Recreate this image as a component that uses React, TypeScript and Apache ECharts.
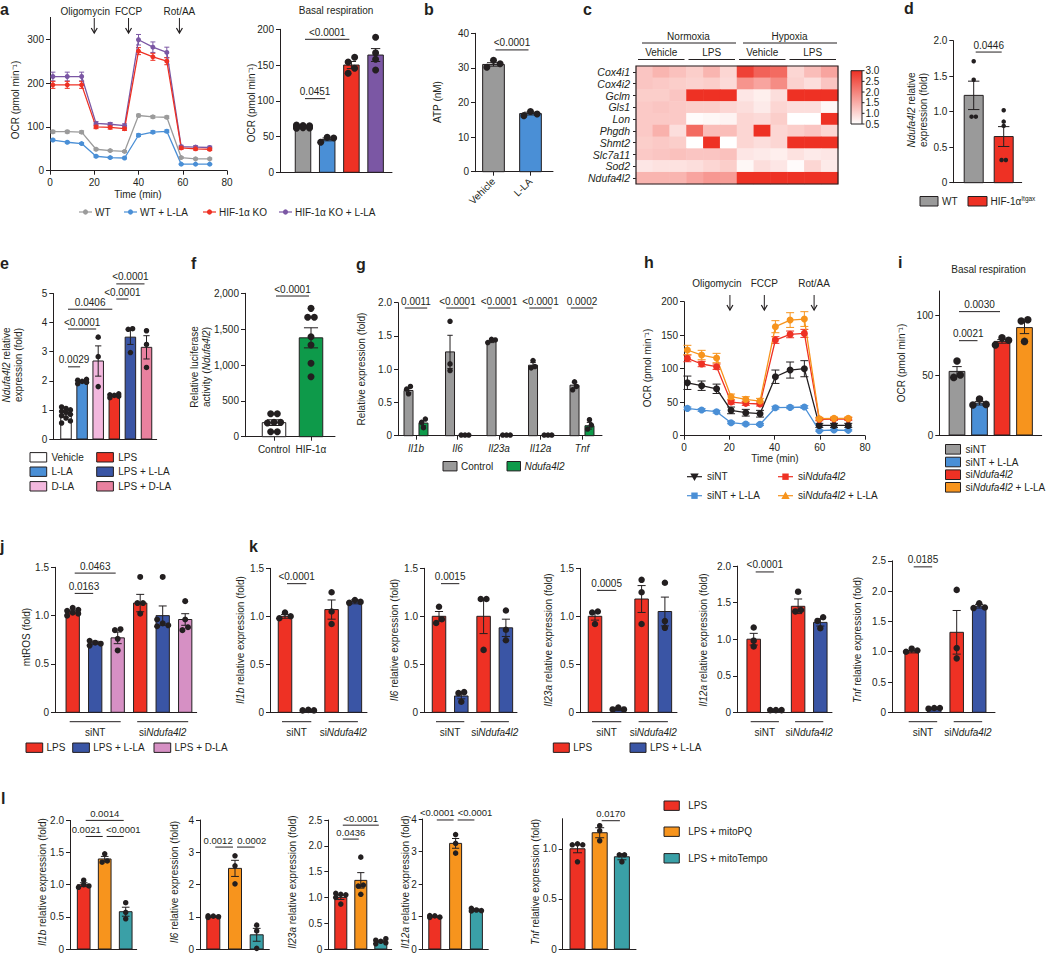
import React, { useEffect, useRef } from 'react';
import * as echarts from 'echarts';

const FONT = '"Liberation Sans", Arial, Helvetica, sans-serif';
const INK = '#231f20';
const FS = 10;

const GRAY = '#9a9a9a';
const BLUE = '#4a8fd6';
const RED = '#ee3124';
const PURPLE = '#7b57a4';
const GREEN = '#0e9a4a';
const NAVY = '#3a55a5';
const PINK_LIGHT = '#f3b8de';
const PINK = '#e9819f';
const MAUVE = '#d690c4';
const ORANGE = '#f7941d';
const TEAL = '#3aa0a7';
const WHITE = '#ffffff';

// ---------------- DATA ----------------
// a: OCR trace
const aTime = [1.3, 7.8, 14.3, 20.8, 27.2, 33.7, 40.0, 46.5, 52.8, 59.3, 65.8, 72.2];
const aWT = [89, 89, 88, 49, 46, 44, 126, 123, 122, 30, 27, 27];
const aWTErr = [3, 3, 3, 2, 2, 2, 3, 3, 3, 2, 2, 2];
const aWTLLA = [70, 65, 62, 33, 30, 29, 81, 88, 90, 15, 15, 15];
const aWTLLAErr = [2, 2, 2, 2, 2, 2, 3, 3, 3, 1, 1, 1];
const aKO = [196, 196, 196, 100, 99, 96, 273, 260, 250, 52, 50, 49];
const aKOErr = [8, 8, 8, 4, 4, 4, 8, 8, 8, 3, 3, 3];
const aKOLLA = [215, 215, 215, 108, 106, 103, 299, 282, 270, 55, 54, 53];
const aKOLLAErr = [10, 10, 10, 4, 4, 4, 12, 12, 12, 3, 3, 3];
const aGroups = ['WT', 'WT + L-LA', 'HIF-1α KO', 'HIF-1α KO + L-LA'];
const aInjections = ['Oligomycin', 'FCCP', 'Rot/AA'];
const aInjectionTimes = [20, 35.5, 58.5];
// a: basal respiration
const aBasalMean = [63.5, 46, 150, 164];
const aBasalErr = [1, 2, 5, 9];
const aBasalDots = [[66, 65.5, 65, 64.5, 64, 63.5, 63, 62.5, 62, 61.5], [42, 49, 48], [160.8, 154.3, 145.5, 138.5], [189, 167, 158, 143]];
const aBasalSig = [{ a: 0, b: 1, y: 103, t: '0.0451' }, { a: 0, b: 2, y: 186, t: '<0.0001' }];

// b: ATP
const bCats = ['Vehicle', 'L-LA'];
const bMean = [31, 16.8];
const bErr = [0.5, 0.4];
const bDots = [[32.2, 30.2, 31.2], [16.2, 17.4, 16.7]];
const bSig = [{ a: 0, b: 1, y: 35.2, t: '<0.0001' }];

// c: heatmap
const cGenes = ['Cox4i1', 'Cox4i2', 'Gclm', 'Gls1', 'Lon', 'Phgdh', 'Shmt2', 'Slc7a11', 'Sod2', 'Ndufa4l2'];
const cConditions = ['Normoxia', 'Hypoxia'];
const cTreatments = ['Vehicle', 'LPS'];
const cValues = [
  [1.2, 1.4, 1.25, 1.1, 1.4, 1.0, 2.8, 2.4, 2.3, 1.0, 1.3, 1.6],
  [1.2, 1.15, 1.1, 1.05, 1.1, 0.95, 1.8, 1.6, 1.9, 1.05, 0.9, 1.2],
  [1.1, 1.1, 1.2, 3.0, 3.0, 3.0, 0.8, 0.7, 0.9, 3.0, 3.0, 3.0],
  [1.15, 1.2, 1.15, 1.1, 1.1, 1.0, 0.9, 0.75, 1.0, 0.9, 0.9, 0.6],
  [1.15, 1.15, 1.15, 0.55, 0.6, 0.65, 1.0, 0.95, 1.1, 0.5, 0.5, 3.0],
  [1.15, 1.45, 0.9, 2.3, 1.3, 1.3, 1.0, 3.0, 1.0, 1.1, 1.2, 1.0],
  [1.1, 1.15, 1.1, 0.5, 3.0, 0.5, 1.0, 0.9, 1.0, 3.0, 3.0, 3.0],
  [1.15, 1.2, 1.25, 1.2, 1.2, 1.25, 0.8, 0.75, 0.7, 0.85, 0.75, 0.8],
  [0.8, 0.85, 0.85, 0.9, 1.0, 1.1, 0.6, 0.9, 0.8, 0.55, 1.0, 0.75],
  [1.4, 1.4, 1.4, 1.6, 1.75, 1.7, 3.0, 3.0, 3.0, 3.0, 3.0, 3.0],
];
const cScale = [0.5, 1.0, 1.5, 2.0, 2.5, 3.0];

// d
const dMean = [1.23, 0.65];
const dErr = [0.2, 0.14];
const dDots = [[1.71, 1.45, 0.93, 0.93], [1.02, 0.86, 0.8, 0.32, 0.32]];
const dSig = [{ a: 0, b: 1, y: 1.84, t: '0.0446' }];

// e
const eGroups = ['Vehicle', 'L-LA', 'D-LA', 'LPS', 'LPS + L-LA', 'LPS + D-LA'];
const eMean = [0.83, 1.98, 2.68, 1.49, 3.5, 3.15];
const eErr = [0.08, 0.03, 0.52, 0.03, 0.25, 0.4];
const eDots = [
  [1.1, 1.05, 1.0, 0.95, 0.92, 0.85, 0.8, 0.72, 0.62, 0.55],
  [2.05, 2.02, 1.98, 1.95, 1.9],
  [3.5, 2.83, 1.8],
  [1.55, 1.52, 1.5, 1.47, 1.42],
  [3.79, 3.77, 2.97],
  [3.72, 3.25, 2.46],
];
const eSig = [
  { a: 0, b: 1, y: 2.48, t: '0.0029' },
  { a: 0, b: 2, y: 3.78, t: '<0.0001' },
  { a: 0, b: 3, y: 4.46, t: '0.0406' },
  { a: 3, b: 4, y: 4.81, t: '<0.0001' },
  { a: 3, b: 5, y: 5.33, t: '<0.0001' },
];

// f
const fCats = ['Control', 'HIF-1α'];
const fMean = [196, 1379];
const fErr = [40, 140];
const fDots = [[320, 320, 200, 190, 200, 70, 70], [1790, 1665, 1665, 1395, 1279, 1024, 837]];
const fSig = [{ a: 0, b: 1, y: 1962, t: '<0.0001' }];

// g
const gGenes = ['Il1b', 'Il6', 'Il23a', 'Il12a', 'Tnf'];
const gControl = [0.68, 1.26, 1.42, 1.06, 0.76];
const gControlErr = [0.03, 0.25, 0.02, 0.04, 0.04];
const gNd = [0.19, 0.01, 0.01, 0.01, 0.15];
const gNdErr = [0.04, 0, 0, 0, 0.05];
const gControlDots = [[0.74, 0.7, 0.63], [1.72, 1.08, 0.98], [1.45, 1.44, 1.4], [1.13, 1.04, 1.02], [0.81, 0.74, 0.69]];
const gNdDots = [[0.25, 0.2, 0.12], [0.01, 0.01, 0.01], [0.01, 0.01, 0.01], [0.01, 0.01, 0.01], [0.24, 0.16, 0.1]];
const gSigY = 1.92;
const gSigLabels = ['0.0011', '<0.0001', '<0.0001', '<0.0001', '0.0002'];

// h
const hTime = [1.5, 7.8, 14.4, 20.8, 27.3, 33.6, 40.4, 46.9, 53.2, 59.8, 66.3, 72.6];
const hSiNT = [79, 74.6, 70, 37.8, 34.3, 32.8, 88, 98, 100, 15.4, 15.4, 15.4];
const hSiNTErr = [10, 7, 7, 5, 5, 5, 10, 12, 12, 3, 3, 3];
const hSiNTLLA = [40.8, 38.3, 35.8, 19.4, 17.4, 16.9, 41.8, 42.3, 42.8, 7.5, 8.5, 8];
const hSiNTLLAErr = [2, 2, 2, 1.5, 1.5, 1.5, 2, 2, 2, 1, 1, 1];
const hSiNd = [115.4, 107, 103, 50.2, 48.3, 47.3, 142.8, 151.2, 152.7, 24.4, 24.9, 24.9];
const hSiNdErr = [5, 4, 4, 3, 3, 3, 5, 5, 6, 2, 2, 2];
const hSiNdLLA = [127.9, 120.4, 115.9, 58.2, 54.2, 51.7, 162.7, 172.6, 174.1, 25.4, 25.9, 25.9];
const hSiNdLLAErr = [7, 7, 7, 4, 4, 4, 9, 11, 11, 2, 2, 2];
const hInjectionTimes = [20.3, 35.5, 57.5];

// i
const iMean = [53, 26.5, 78, 89.5];
const iErr = [4, 1.5, 1.5, 5];
const iDots = [[61.7, 50, 48], [30, 25.5, 25], [81, 79, 75], [96, 95, 78]];
const iSig = [{ a: 0, b: 1, y: 78.6, t: '0.0021' }, { a: 0, b: 2, y: 102.8, t: '0.0030' }];

// j
const jMean = [1.04, 0.72, 0.77, 1.13, 1.0, 0.96];
const jErr = [0.015, 0.015, 0.06, 0.09, 0.1, 0.06];
const jDots = [
  [1.08, 1.06, 1.05, 1.03, 1.02, 1.0],
  [0.74, 0.72, 0.71, 0.69],
  [0.86, 0.85, 0.76, 0.64],
  [1.4, 1.13, 1.13, 1.02],
  [1.4, 0.96, 0.92, 0.9, 0.89],
  [1.15, 0.96, 0.88, 0.85],
];
const jSig = [{ a: 0, b: 1, y: 1.23, t: '0.0163' }, { a: 0, b: 2, y: 1.44, t: '0.0463' }];

// k
const kGenes = ['Il1b', 'Il6', 'Il23a', 'Il12a', 'Tnf'];
const kMeans = [[1.0, 0.02, 1.07, 1.15], [1.0, 0.17, 1.0, 0.88], [1.0, 0.03, 1.18, 1.05], [1.0, 0.03, 1.45, 1.23], [1.0, 0.06, 1.32, 1.75]];
const kErrs = [[0.02, 0.003, 0.1, 0.02], [0.05, 0.03, 0.18, 0.09], [0.04, 0.01, 0.14, 0.15], [0.08, 0.005, 0.1, 0.05], [0.02, 0.01, 0.36, 0.03]];
const kDots = [
  [[1.04, 1.0, 0.98], [0.02, 0.025, 0.02], [1.25, 1.05, 0.92], [1.17, 1.15, 1.14]],
  [[1.1, 0.97, 0.93], [0.21, 0.2, 0.11], [1.18, 1.18, 0.65], [1.06, 0.86, 0.75]],
  [[1.05, 1.04, 0.92], [0.05, 0.03, 0.03], [1.38, 1.25, 0.92], [1.35, 0.95, 0.88]],
  [[1.16, 0.98, 0.9], [0.03, 0.03, 0.03], [1.65, 1.4, 1.38], [1.3, 1.25, 1.15]],
  [[1.05, 1.02, 1.0], [0.07, 0.07, 0.06], [2.02, 1.06, 0.89], [1.8, 1.73, 1.72]],
];
const kSigs = [
  [{ a: 0, b: 1, y: 1.34, t: '<0.0001' }],
  [{ a: 0, b: 1, y: 1.34, t: '0.0015' }],
  [{ a: 0, b: 1, y: 1.27, t: '0.0005' }],
  [{ a: 0, b: 1, y: 1.92, t: '<0.0001' }],
  [{ a: 0, b: 1, y: 2.4, t: '0.0185' }],
];
const kMax = [1.5, 1.5, 1.5, 2.0, 2.5];

// l
const lGenes = ['Il1b', 'Il6', 'Il23a', 'Il12a', 'Tnf'];
const lGroups = ['LPS', 'LPS + mitoPQ', 'LPS + mitoTempo'];
const lMeans = [[1.0, 1.4, 0.58], [1.0, 2.5, 0.44], [1.0, 1.33, 0.15], [1.0, 3.25, 1.2], [1.0, 1.16, 0.92]];
const lErrs = [[0.03, 0.04, 0.07], [0.02, 0.25, 0.2], [0.04, 0.15, 0.02], [0.02, 0.15, 0.03], [0.04, 0.05, 0.03]];
const lDots = [
  [[1.07, 1.0, 0.98, 0.96], [1.48, 1.37, 1.35], [0.72, 0.57, 0.47]],
  [[1.03, 1.02, 1.0, 0.98], [2.89, 2.58, 2.02], [0.74, 0.56, 0.02]],
  [[1.08, 1.06, 1.05, 1.0, 0.87], [1.78, 1.24, 1.22, 1.06], [0.2, 0.17, 0.15, 0.12, 0.1]],
  [[1.03, 1.02, 0.98, 0.97], [3.52, 3.25, 2.95], [1.25, 1.2, 1.18, 1.17]],
  [[1.05, 1.04, 1.04, 0.87], [1.23, 1.18, 1.08], [0.94, 0.94, 0.87]],
];
const lSigs = [
  [{ a: 0, b: 1, y: 1.75, t: '0.0021' }, { a: 1, b: 2, y: 1.75, t: '<0.0001' }, { a: 0, b: 2, y: 2.0, t: '0.0014' }],
  [{ a: 0, b: 1, y: 3.16, t: '0.0012' }, { a: 1, b: 2, y: 3.16, t: '0.0002' }],
  [{ a: 0, b: 1, y: 2.13, t: '0.0436' }, { a: 0, b: 2, y: 2.4, t: '<0.0001' }],
  [{ a: 0, b: 1, y: 3.97, t: '<0.0001' }, { a: 1, b: 2, y: 3.97, t: '<0.0001' }],
  [{ a: 1, b: 2, y: 1.28, t: '0.0170' }],
];
const lMax = [2.0, 4, 2.5, 4, 1.3];
const lTicks = [[0, 0.5, 1, 1.5, 2], [0, 1, 2, 3, 4], [0, 0.5, 1, 1.5, 2, 2.5], [0, 1, 2, 3, 4], [0, 0.5, 1]];

// ---------------- helpers ----------------
const f1 = (v: number) => (v === 0 ? '0' : v.toFixed(1));
const f0 = (v: number) => String(Math.round(v));
const fComma = (v: number) => Math.round(v).toLocaleString('en-US');

function jitter(vals: number[], ppu: number, d: number, bw: number) {
  const order = vals.map((_, i) => i).sort((p, q) => vals[p] - vals[q]);
  const off = vals.map(() => 0);
  const sp = Math.min(d * 0.95, bw * 0.42);
  let cl: number[] = [];
  const flush = () => {
    const n = cl.length;
    if (n === 2) { off[cl[0]] = -sp / 2; off[cl[1]] = sp / 2; }
    else if (n >= 3) { const pat = [-1, 1, 0]; cl.forEach((id, k) => { off[id] = pat[k % 3] * sp; }); }
    cl = [];
  };
  for (const id of order) {
    if (cl.length && (vals[id] - vals[cl[cl.length - 1]]) * ppu >= d * 0.8) flush();
    cl.push(id);
  }
  flush();
  return off;
}

function buildOption(): any {
  const grids: any[] = [];
  const xAxes: any[] = [];
  const yAxes: any[] = [];
  const series: any[] = [];
  const gfx: any[] = [];
  const axLine = { color: INK, width: 1 };
  const lab = { color: INK, fontSize: FS, fontFamily: FONT };
  const RICH: any = {
    i: { fontStyle: 'italic', fontSize: FS, fontFamily: FONT, fill: INK, color: INK, lineHeight: 12 },
    n: { fontSize: FS, fontFamily: FONT, fill: INK, color: INK, lineHeight: 12 },
    s: { fontSize: 6.5, fontFamily: FONT, fill: INK, color: INK, padding: [0, 0, 6, 0] },
  };

  const txt = (x: number, y: number, text: string, o: any = {}) => ({
    type: 'text', x, y, rotation: o.rot || 0, silent: true, z: 50,
    style: {
      text, fill: o.color || INK, fontSize: o.size || FS, fontFamily: FONT,
      fontWeight: o.bold ? 'bold' : 'normal', fontStyle: o.italic ? 'italic' : 'normal',
      textAlign: o.align || 'left', align: o.align || 'left',
      textVerticalAlign: o.va || 'middle', verticalAlign: o.va || 'middle',
      lineHeight: 12, rich: RICH,
    },
  });
  const ln = (x1: number, y1: number, x2: number, y2: number, color = INK, w = 1) => ({
    type: 'line', silent: true, z: 50, shape: { x1, y1, x2, y2 }, style: { stroke: color, lineWidth: w },
  });
  const rc = (x: number, y: number, w: number, h: number, fill: string) => ({
    type: 'rect', silent: true, z: 50, shape: { x, y, width: w, height: h }, style: { fill, stroke: INK, lineWidth: 1 },
  });
  const arrow = (x: number, y1: number, y2: number) => [
    ln(x, y1, x, y2),
    { type: 'polyline', silent: true, z: 50, shape: { points: [[x - 3, y2 - 5], [x, y2], [x + 3, y2 - 5]] }, style: { stroke: INK, lineWidth: 1.2, fill: 'none' } },
  ];
  const lineIcon = (x: number, y: number, w: number, color: string, shape: string, r: number) => {
    const cx = x + w / 2;
    const els: any[] = [ln(x, y, x + w, y, color, 1.2)];
    if (shape === 'circle') els.push({ type: 'circle', silent: true, z: 50, shape: { cx, cy: y, r }, style: { fill: color } });
    if (shape === 'square') els.push({ type: 'rect', silent: true, z: 50, shape: { x: cx - r, y: y - r, width: 2 * r, height: 2 * r }, style: { fill: color } });
    if (shape === 'tri') els.push({ type: 'polygon', silent: true, z: 50, shape: { points: [[cx, y - r - 1], [cx - r - 1, y + r], [cx + r + 1, y + r]] }, style: { fill: color } });
    if (shape === 'triDown') els.push({ type: 'polygon', silent: true, z: 50, shape: { points: [[cx, y + r + 1], [cx - r - 1, y - r], [cx + r + 1, y - r]] }, style: { fill: color } });
    return els;
  };
  const yName = (x: number, y: number, text: string) => gfx.push(txt(x, y, text, { rot: Math.PI / 2, align: 'center' }));

  // ---- bar panel builder ----
  const addBarPanel = (s: any) => {
    const g = s.geo;
    const gi = grids.length;
    grids.push({ left: g.ax, top: g.yTop, width: g.xEnd - g.ax, height: g.y0 - g.yTop });
    const xi = xAxes.length;
    xAxes.push({
      type: 'value', gridIndex: gi, min: -(g.c0 - g.ax) / g.step, max: (g.xEnd - g.c0) / g.step,
      axisLine: { show: true, onZero: false, lineStyle: axLine },
      axisTick: s.xTicks ? { show: true, length: 4, customValues: s.xTicks, lineStyle: axLine } : { show: false },
      axisLabel: s.xLabels
        ? { ...lab, customValues: s.xTicks, formatter: (v: number) => s.xLabels[Math.round(v)] ?? '', rotate: s.rotate || 0, margin: s.labelMargin ?? 7, fontStyle: s.italic ? 'italic' : 'normal' }
        : { show: false },
      splitLine: { show: false },
    });
    const yi = yAxes.length;
    yAxes.push({
      type: 'value', gridIndex: gi, min: 0, max: g.yMax,
      axisLine: { show: true, onZero: false, lineStyle: axLine },
      axisTick: { show: true, length: 4, customValues: g.ticks, lineStyle: axLine },
      axisLabel: { ...lab, customValues: g.ticks, formatter: g.fmt || f0, margin: 6 },
      splitLine: { show: false },
    });
    const ppu = (g.y0 - g.yTop) / g.yMax;
    series.push({
      type: 'custom', xAxisIndex: xi, yAxisIndex: yi, silent: true, z: 2,
      data: s.xs.map((x: number, i: number) => [x, s.means[i], s.errs[i]]),
      renderItem: (p: any, api: any) => {
        const x = api.value(0), m = api.value(1), e = api.value(2);
        const base = api.coord([x, 0]);
        const top = api.coord([x, m]);
        const hi = api.coord([x, m + e]);
        const lo = api.coord([x, Math.max(0, m - e)]);
        const cx = base[0], hw = g.bw / 2, cap = Math.max(2.5, g.bw * 0.3);
        const ch: any[] = [
          { type: 'rect', shape: { x: cx - hw, y: top[1], width: g.bw, height: base[1] - top[1] }, style: { fill: s.colors[p.dataIndex], stroke: INK, lineWidth: 1 } },
        ];
        if (e > 0) {
          ch.push(
            { type: 'line', shape: { x1: cx, y1: lo[1], x2: cx, y2: hi[1] }, style: { stroke: INK, lineWidth: 1 } },
            { type: 'line', shape: { x1: cx - cap, y1: hi[1], x2: cx + cap, y2: hi[1] }, style: { stroke: INK, lineWidth: 1 } },
            { type: 'line', shape: { x1: cx - cap, y1: lo[1], x2: cx + cap, y2: lo[1] }, style: { stroke: INK, lineWidth: 1 } },
          );
        }
        return { type: 'group', children: ch };
      },
    });
    const dotData: number[][] = [];
    s.dots.forEach((vals: number[], i: number) => {
      const off = jitter(vals, ppu, g.dot, g.bw);
      vals.forEach((v, k) => dotData.push([s.xs[i], v, off[k]]));
    });
    series.push({
      type: 'custom', xAxisIndex: xi, yAxisIndex: yi, silent: true, z: 3, data: dotData,
      renderItem: (p: any, api: any) => {
        const c = api.coord([api.value(0), api.value(1)]);
        return { type: 'circle', shape: { cx: c[0] + api.value(2), cy: c[1], r: g.dot / 2 }, style: { fill: INK } };
      },
    });
    if (s.sigs && s.sigs.length) {
      series.push({
        type: 'custom', xAxisIndex: xi, yAxisIndex: yi, silent: true, z: 4,
        data: s.sigs.map((q: any) => [q.a, q.y]),
        renderItem: (p: any, api: any) => {
          const q = s.sigs[p.dataIndex];
          const a = api.coord([q.a, q.y]);
          const b = api.coord([q.b, q.y]);
          const inset = s.sigInset ?? 2;
          const dx = s.sigDx ? s.sigDx[p.dataIndex] || 0 : 0;
          return {
            type: 'group', children: [
              { type: 'line', shape: { x1: a[0] + inset, y1: a[1], x2: b[0] - inset, y2: b[1] }, style: { stroke: INK, lineWidth: 1 } },
              { type: 'text', x: (a[0] + b[0]) / 2 + dx, y: a[1] - 2, style: { text: q.t, fill: INK, fontSize: s.sigSize || FS, fontFamily: FONT, textAlign: 'center', align: 'center', textVerticalAlign: 'bottom', verticalAlign: 'bottom' } },
            ],
          };
        },
      });
    }
    return g;
  };

  // ---- line panel builder ----
  const addLinePanel = (L: any, lines: any[]) => {
    const gi = grids.length;
    grids.push({ left: L.left, top: L.top, width: L.width, height: L.height });
    const xi = xAxes.length;
    xAxes.push({
      type: 'value', gridIndex: gi, min: 0, max: 80, interval: 20,
      axisLine: { show: true, onZero: false, lineStyle: axLine },
      axisTick: { show: true, length: 4, lineStyle: axLine },
      axisLabel: { ...lab, margin: 7 }, splitLine: { show: false },
    });
    const yi = yAxes.length;
    yAxes.push({
      type: 'value', gridIndex: gi, min: 0, max: L.yMax,
      axisLine: { show: true, onZero: false, lineStyle: axLine },
      axisTick: { show: true, length: 4, customValues: L.yTicks, lineStyle: axLine },
      axisLabel: { ...lab, margin: 6, customValues: L.yTicks, formatter: f0 }, splitLine: { show: false },
    });
    lines.forEach((s) => {
      series.push({
        type: 'custom', xAxisIndex: xi, yAxisIndex: yi, silent: true, z: 2,
        data: s.t.map((t: number, i: number) => [t, s.v[i], s.e[i]]),
        renderItem: (p: any, api: any) => {
          const x = api.value(0), m = api.value(1), e = api.value(2);
          const hi = api.coord([x, m + e]), lo = api.coord([x, m - e]);
          const cw = L.cap;
          return {
            type: 'group', children: [
              { type: 'line', shape: { x1: hi[0], y1: hi[1], x2: lo[0], y2: lo[1] }, style: { stroke: s.color, lineWidth: 1 } },
              { type: 'line', shape: { x1: hi[0] - cw, y1: hi[1], x2: hi[0] + cw, y2: hi[1] }, style: { stroke: s.color, lineWidth: 1 } },
              { type: 'line', shape: { x1: lo[0] - cw, y1: lo[1], x2: lo[0] + cw, y2: lo[1] }, style: { stroke: s.color, lineWidth: 1 } },
            ],
          };
        },
      });
      series.push({
        type: 'line', xAxisIndex: xi, yAxisIndex: yi, silent: true, z: 3,
        data: s.t.map((t: number, i: number) => [t, s.v[i]]),
        symbol: 'circle', symbolSize: L.sym, showSymbol: true,
        lineStyle: { color: s.color, width: 1.3 }, itemStyle: { color: s.color }, emphasis: { disabled: true },
      });
    });
  };

  // ============ Panel a ============
  const aL = { left: 50, top: 17.4, width: 177, height: 153.3, yMax: 350, yTicks: [0, 100, 200, 300], sym: 5, cap: 2.5 };
  addLinePanel(aL, [
    { t: aTime, v: aWT, e: aWTErr, color: '#9b9b9b' },
    { t: aTime, v: aWTLLA, e: aWTLLAErr, color: BLUE },
    { t: aTime, v: aKOLLA, e: aKOLLAErr, color: PURPLE },
    { t: aTime, v: aKO, e: aKOErr, color: RED },
  ]);
  const aPx = (t: number) => aL.left + (t / 80) * aL.width;
  const aLabelShift = [-9, 0, 0];
  aInjections.forEach((name, i) => {
    const x = aPx(aInjectionTimes[i]);
    gfx.push(txt(x + aLabelShift[i], 11, name, { align: 'center' }));
    gfx.push(...arrow(x, 18, 33));
  });
  gfx.push(txt(138, 194, 'Time (min)', { align: 'center' }));
  yName(15, 100, 'OCR (pmol min⁻¹)');
  const aLegX = [79, 124, 203, 279];
  const aLegC = ['#9b9b9b', BLUE, RED, PURPLE];
  aGroups.forEach((name, i) => {
    gfx.push(...lineIcon(aLegX[i], 212, 13, aLegC[i], 'circle', 2.6));
    gfx.push(txt(aLegX[i] + 16, 212, name));
  });

  addBarPanel({
    geo: { ax: 280, xEnd: 392, c0: 303, step: 24.2, y0: 172.3, yTop: 29.3, yMax: 200, bw: 15.5, dot: 7, ticks: [0, 50, 100, 150, 200] },
    xs: [0, 1, 2, 3], means: aBasalMean, errs: aBasalErr, colors: [GRAY, BLUE, RED, PURPLE], dots: aBasalDots, sigs: aBasalSig,
  });
  gfx.push(txt(336, 10, 'Basal respiration', { align: 'center' }));
  yName(251, 103, 'OCR (pmol min⁻¹)');

  // ============ Panel b ============
  addBarPanel({
    geo: { ax: 475, xEnd: 553, c0: 493.5, step: 37, y0: 171.7, yTop: 33.3, yMax: 40, bw: 21.7, dot: 7, ticks: [0, 10, 20, 30, 40] },
    xs: [0, 1], means: bMean, errs: bErr, colors: [GRAY, BLUE], dots: bDots, sigs: bSig,
    xTicks: [0, 1], xLabels: bCats, rotate: 45, labelMargin: 8,
  });
  yName(437, 102, 'ATP (nM)');

  // ============ Panel c (heatmap) ============
  const hmGi = grids.length;
  const hmLeft = 636, hmTop = 66, hmW = 202, hmH = 118;
  grids.push({ left: hmLeft, top: hmTop, width: hmW, height: hmH });
  const hmCols: string[] = [];
  cConditions.forEach((c) => cTreatments.forEach((t) => [1, 2, 3].forEach((r) => hmCols.push(`${c} ${t} ${r}`))));
  const hmXi = xAxes.length;
  xAxes.push({ type: 'category', gridIndex: hmGi, data: hmCols, show: false });
  const hmYi = yAxes.length;
  yAxes.push({
    type: 'category', gridIndex: hmGi, data: cGenes, inverse: true,
    axisLine: { show: false },
    axisTick: { show: true, length: 3, alignWithLabel: true, interval: 0, lineStyle: axLine },
    axisLabel: { ...lab, fontSize: 10.5, fontStyle: 'italic', margin: 6, interval: 0 }, splitLine: { show: false },
  });
  const hmSeriesIndex = series.length;
  series.push({
    type: 'heatmap', xAxisIndex: hmXi, yAxisIndex: hmYi, silent: true, progressive: 0,
    data: cValues.flatMap((row, r) => row.map((v, c) => [c, r, v])),
    itemStyle: { borderWidth: 0 }, emphasis: { disabled: true },
  });
  gfx.push({ type: 'rect', silent: true, z: 60, shape: { x: hmLeft, y: hmTop, width: hmW, height: hmH }, style: { fill: 'none', stroke: INK, lineWidth: 1.2 } });
  const colW = hmW / 12;
  cConditions.forEach((c, ci) => {
    const x1 = hmLeft + ci * 6 * colW, x2 = x1 + 6 * colW;
    gfx.push(txt((x1 + x2) / 2 + 2, 36, c, { align: 'center' }));
    gfx.push(ln(x1 + 6, 43, x2 - 1, 43));
    cTreatments.forEach((t, ti) => {
      const u1 = x1 + ti * 3 * colW, u2 = u1 + 3 * colW;
      gfx.push(txt((u1 + u2) / 2, 52, t, { align: 'center' }));
      gfx.push(ln(u1 + 2, 59.5, u2 - 2, 59.5));
    });
  });
  const cbX = 851, cbY = 70.7, cbW = 11, cbH = 53.3;
  gfx.push({
    type: 'rect', silent: true, z: 50, shape: { x: cbX, y: cbY, width: cbW, height: cbH },
    style: { fill: new echarts.graphic.LinearGradient(0, 0, 0, 1, [{ offset: 0, color: RED }, { offset: 1, color: '#ffffff' }]), stroke: INK, lineWidth: 1 },
  });
  cScale.forEach((v) => {
    const y = cbY + cbH - ((v - 0.5) / 2.5) * cbH;
    gfx.push(ln(cbX + cbW, y, cbX + cbW + 2.5, y));
    gfx.push(txt(cbX + cbW + 3.5, y, v.toFixed(1)));
  });

  // ============ Panel d ============
  addBarPanel({
    geo: { ax: 953.3, xEnd: 1021.7, c0: 973.7, step: 30, y0: 182.7, yTop: 40.7, yMax: 2, bw: 19, dot: 4.5, ticks: [0, 0.5, 1, 1.5, 2], fmt: f1 },
    xs: [0, 1], means: dMean, errs: dErr, colors: [GRAY, RED], dots: dDots, sigs: dSig,
  });
  yName(917, 110, '{i|Ndufa4l2} relative\nexpression (fold)');
  gfx.push(rc(920, 196.5, 18, 9.5, GRAY));
  gfx.push(txt(942, 201.3, 'WT'));
  gfx.push(rc(968, 196.5, 19, 9.5, RED));
  gfx.push(txt(990.5, 201.3, 'HIF-1α{s|Itgax}'));

  // ============ Panel e ============
  const eColors = [WHITE, BLUE, PINK_LIGHT, RED, NAVY, PINK];
  addBarPanel({
    geo: { ax: 53.3, xEnd: 156.7, c0: 66, step: 16.1, y0: 439, yTop: 293.5, yMax: 5, bw: 10.5, dot: 5.5, ticks: [0, 1, 2, 3, 4, 5] },
    xs: [0, 1, 2, 3, 4, 5], means: eMean, errs: eErr, colors: eColors, dots: eDots, sigs: eSig,
  });
  yName(12, 365, '{i|Ndufa4l2} relative\nexpression (fold)');
  const eRows = [457.3, 471.7, 486.3];
  eGroups.forEach((name, i) => {
    const col = Math.floor(i / 3), row = i % 3;
    const x = col === 0 ? 30 : 96.7;
    gfx.push(rc(x, eRows[row] - 4.7, 16.7, 9.4, eColors[i]));
    gfx.push(txt(x + 21.5, eRows[row], name));
  });

  // ============ Panel f ============
  addBarPanel({
    geo: { ax: 245, xEnd: 335, c0: 274, step: 37, y0: 436.7, yTop: 293.3, yMax: 2000, bw: 23.5, dot: 7, ticks: [0, 500, 1000, 1500, 2000], fmt: fComma },
    xs: [0, 1], means: fMean, errs: fErr, colors: [WHITE, GREEN], dots: fDots, sigs: fSig,
    xTicks: [0, 1], xLabels: fCats, labelMargin: 8,
  });
  yName(200, 367, 'Relative luciferase\nactivity ({i|Ndufa4l2})');

  // ============ Panel g ============
  const gXs: number[] = [], gM: number[] = [], gE: number[] = [], gC: string[] = [], gD: number[][] = [];
  gGenes.forEach((_, i) => {
    gXs.push(i - 0.18, i + 0.18);
    gM.push(gControl[i], gNd[i]);
    gE.push(gControlErr[i], gNdErr[i]);
    gC.push(GRAY, GREEN);
    gD.push(gControlDots[i], gNdDots[i]);
  });
  addBarPanel({
    geo: { ax: 398, xEnd: 602, c0: 416, step: 41.5, y0: 435.7, yTop: 302.7, yMax: 2, bw: 9, dot: 5.5, ticks: [0, 0.5, 1, 1.5, 2], fmt: f1 },
    xs: gXs, means: gM, errs: gE, colors: gC, dots: gD,
    sigs: gGenes.map((_, i) => ({ a: i - 0.27, b: i + 0.27, y: gSigY, t: gSigLabels[i] })), sigInset: 0,
    xTicks: [0, 1, 2, 3, 4], xLabels: gGenes, italic: true, labelMargin: 8,
  });
  yName(361, 369, 'Relative expression (fold)');
  gfx.push(rc(443, 461.5, 14, 9.4, GRAY));
  gfx.push(txt(461, 466.2, 'Control'));
  gfx.push(rc(507, 461.5, 13.5, 9.4, GREEN));
  gfx.push(txt(524.5, 466.2, '{i|Ndufa4l2}'));

  // ============ Panel h ============
  const hL = { left: 684, top: 301.7, width: 181, height: 134, yMax: 200, yTicks: [0, 50, 100, 150, 200], sym: 7, cap: 4 };
  addLinePanel(hL, [
    { t: hTime, v: hSiNTLLA, e: hSiNTLLAErr, color: BLUE },
    { t: hTime, v: hSiNT, e: hSiNTErr, color: INK },
    { t: hTime, v: hSiNd, e: hSiNdErr, color: RED },
    { t: hTime, v: hSiNdLLA, e: hSiNdLLAErr, color: ORANGE },
  ]);
  const hPx = (t: number) => hL.left + (t / 80) * hL.width;
  const hLabelShift = [-13, 0, 0];
  aInjections.forEach((name, i) => {
    const x = hPx(hInjectionTimes[i]);
    gfx.push(txt(x + hLabelShift[i], 283.5, name, { align: 'center' }));
    gfx.push(...arrow(x, 295, 310));
  });
  gfx.push(txt(775, 458.5, 'Time (min)', { align: 'center' }));
  yName(647, 368, 'OCR (pmol min⁻¹)');
  const hLeg = [
    { x: 687, y: 476.7, c: INK, s: 'triDown', t: 'siNT' },
    { x: 687, y: 495.7, c: BLUE, s: 'square', t: 'siNT + L-LA' },
    { x: 778, y: 476.7, c: RED, s: 'square', t: 'si{i|Ndufa4l2}' },
    { x: 778, y: 495.7, c: ORANGE, s: 'tri', t: 'si{i|Ndufa4l2} + L-LA' },
  ];
  hLeg.forEach((it) => {
    gfx.push(...lineIcon(it.x, it.y, 15, it.c, it.s, 3.2));
    gfx.push(txt(it.x + 20, it.y, it.t));
  });

  // ============ Panel i ============
  const iColors = [GRAY, BLUE, RED, ORANGE];
  addBarPanel({
    geo: { ax: 939.3, xEnd: 1041.7, c0: 957, step: 22.5, y0: 435, yTop: 291, yMax: 120, bw: 15.7, dot: 7.5, ticks: [0, 50, 100] },
    xs: [0, 1, 2, 3], means: iMean, errs: iErr, colors: iColors, dots: iDots, sigs: iSig,
  });
  gfx.push(txt(988.5, 269, 'Basal respiration', { align: 'center' }));
  yName(901, 363, 'OCR (pmol min⁻¹)');
  const iLeg = ['siNT', 'siNT + L-LA', 'si{i|Ndufa4l2}', 'si{i|Ndufa4l2} + L-LA'];
  const iRows = [449.3, 462, 474.7, 487.3];
  iLeg.forEach((t, k) => {
    gfx.push(rc(945.5, iRows[k] - 4.8, 15, 9.6, iColors[k]));
    gfx.push(txt(965.5, iRows[k], t));
  });

  // ============ Panel j ============
  const jColors = [RED, NAVY, MAUVE, RED, NAVY, MAUVE];
  const jG = addBarPanel({
    geo: { ax: 55, xEnd: 196.7, c0: 72.7, step: 22.5, y0: 712.3, yTop: 567.3, yMax: 1.5, bw: 13.3, dot: 6, ticks: [0, 0.5, 1, 1.5], fmt: f1 },
    xs: [0, 1, 2, 3, 4, 5], means: jMean, errs: jErr, colors: jColors, dots: jDots, sigs: jSig,
  });
  yName(26, 637, 'mtROS (fold)');
  const groupLines = (g: any, groups: number[][]) => {
    const labels = ['siNT', 'si{i|Ndufa4l2}'];
    groups.forEach(([a, b], k) => {
      const x1 = g.c0 + a * g.step - 3, x2 = g.c0 + b * g.step + 3;
      gfx.push(ln(x1, 721.7, x2, 721.7));
      gfx.push(txt((x1 + x2) / 2, 732, labels[k], { align: 'center' }));
    });
  };
  groupLines(jG, [[0, 2], [3, 5]]);
  const jLeg = [{ x: 26, c: RED, t: 'LPS' }, { x: 72.7, c: NAVY, t: 'LPS + L-LA' }, { x: 154, c: MAUVE, t: 'LPS + D-LA' }];
  jLeg.forEach((it) => {
    gfx.push(rc(it.x, 743, 16.7, 9.4, it.c));
    gfx.push(txt(it.x + 20.5, 747.7, it.t));
  });

  // ============ Panel k ============
  const kGeo = [
    { ax: 270, xEnd: 367, c0: 285, step: 23.3, name: 240 },
    { ax: 424, xEnd: 517, c0: 439, step: 22.3, name: 394 },
    { ax: 580, xEnd: 677, c0: 595, step: 23.3, name: 548 },
    { ax: 737, xEnd: 832, c0: 753.7, step: 22.2, name: 703 },
    { ax: 892, xEnd: 995, c0: 911.7, step: 22.5, name: 857 },
  ];
  kGenes.forEach((gene, gi) => {
    const kg = kGeo[gi];
    const yMax = kMax[gi];
    const ppu = gi === 3 ? 73.1 : gi === 4 ? 60.6 : 96;
    const ticks: number[] = [];
    for (let v = 0; v <= yMax + 1e-9; v += 0.5) ticks.push(Math.round(v * 10) / 10);
    const g = addBarPanel({
      geo: { ax: kg.ax, xEnd: kg.xEnd, c0: kg.c0, step: kg.step, y0: 712.3, yTop: 712.3 - yMax * ppu, yMax, bw: 13.5, dot: 6.5, ticks, fmt: f1 },
      xs: [0, 1, 2, 3], means: kMeans[gi], errs: kErrs[gi], colors: [RED, NAVY, RED, NAVY], dots: kDots[gi], sigs: kSigs[gi],
    });
    yName(kg.name, 640, `{i|${gene}} relative expression (fold)`);
    groupLines(g, [[0, 1], [2, 3]]);
  });
  const kLeg = [{ x: 553.3, c: RED, t: 'LPS' }, { x: 630, c: NAVY, t: 'LPS + L-LA' }];
  kLeg.forEach((it) => {
    gfx.push(rc(it.x, 743, 16, 9.4, it.c));
    gfx.push(txt(it.x + 20, 747.7, it.t));
  });

  // ============ Panel l ============
  const lGeo = [
    { ax: 70, xEnd: 136.7, c0: 83.7, step: 21, bw: 12.7, name: 42 },
    { ax: 200, xEnd: 269.3, c0: 213.3, step: 21.7, bw: 13, name: 174 },
    { ax: 328.3, xEnd: 391.7, c0: 340.8, step: 20, bw: 12, name: 292 },
    { ax: 422.7, xEnd: 488.3, c0: 434.8, step: 20.8, bw: 12, name: 405 },
    { ax: 562.7, xEnd: 636, c0: 577.5, step: 22.2, bw: 15, name: 535 },
  ];
  const lSigDx = [[-8, 8, 0], [-6, 6], [0, 0], [-8, 9], [0]];
  const lPpu = [64.8, 32.5, 52, 32.75, 101];
  const lFmt = [f1, f0, f1, f0, f1];
  const lColors = [RED, ORANGE, TEAL];
  lGenes.forEach((gene, gi) => {
    const lg = lGeo[gi];
    addBarPanel({
      geo: { ax: lg.ax, xEnd: lg.xEnd, c0: lg.c0, step: lg.step, y0: 950, yTop: 950 - lMax[gi] * lPpu[gi], yMax: lMax[gi], bw: lg.bw, dot: 5.5, ticks: lTicks[gi], fmt: lFmt[gi] },
      xs: [0, 1, 2], means: lMeans[gi], errs: lErrs[gi], colors: lColors, dots: lDots[gi], sigs: lSigs[gi],
      sigDx: lSigDx[gi], sigSize: 9.5,
    });
    yName(lg.name, 882, `{i|${gene}} relative expression (fold)`);
  });
  const lRows = [805.7, 831.7, 858.3];
  lGroups.forEach((t, k) => {
    gfx.push(rc(664, lRows[k] - 4.7, 15.3, 9.4, lColors[k]));
    gfx.push(txt(688.3, lRows[k], t));
  });

  // ---- panel letters ----
  const letters: [string, number, number][] = [
    ['a', 0, 9], ['b', 424, 9], ['c', 583, 9], ['d', 904, 8],
    ['e', 0, 263], ['f', 191, 263], ['g', 356, 264], ['h', 644, 262], ['i', 898, 262],
    ['j', 0, 546], ['k', 249, 546], ['l', 1, 798],
  ];
  letters.forEach(([t, x, y]) => gfx.push(txt(x, y, t, { bold: true, size: 16 })));

  return {
    animation: false,
    backgroundColor: '#ffffff',
    textStyle: { fontFamily: FONT },
    grid: grids,
    xAxis: xAxes,
    yAxis: yAxes,
    visualMap: [{
      type: 'continuous', show: false, min: 0.5, max: 3, dimension: 2, seriesIndex: hmSeriesIndex,
      inRange: { color: ['#ffffff', RED] },
    }],
    series,
    graphic: { elements: gfx },
  };
}

export default function App() {
  const ref = useRef<HTMLDivElement>(null);
  useEffect(() => {
    if (!ref.current) return;
    const chart = echarts.init(ref.current, undefined, { renderer: 'svg' });
    chart.setOption(buildOption());
    return () => chart.dispose();
  }, []);
  return <div ref={ref} style={{ position: 'absolute', left: 0, top: 0, width: 1050, height: 954, background: '#fff' }} />;
}
